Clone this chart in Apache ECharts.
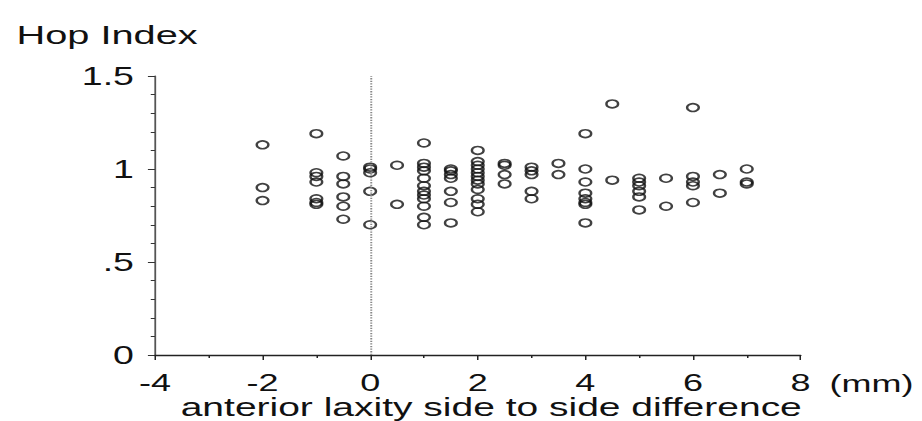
<!DOCTYPE html>
<html>
<head>
<meta charset="utf-8">
<script src="https://cdn.jsdelivr.net/npm/echarts@6/dist/echarts.min.js"></script>
<style>
  html, body { margin: 0; padding: 0; background: #fff; overflow: hidden; }
  /* The plot is laid out on a narrower canvas and stretched horizontally. */
  #chart { width: 614.67px; height: 421px; transform: scaleX(1.5); transform-origin: 0 0; }
</style>
</head>
<body>
<div id="chart"></div>
<script>
// Anterior laxity side-to-side difference (mm) for each column of points
const laxity = [-2, -1, -0.5, 0, 0.5, 1, 1.5, 2, 2.5, 3, 3.5, 4, 4.5, 5, 5.5, 6, 6.5, 7];

// Hop index values observed at each laxity difference
const hopIndex = [
  [1.13, 0.90, 0.83],
  [1.19, 0.98, 0.96, 0.93, 0.84, 0.82, 0.81],
  [1.07, 0.96, 0.92, 0.85, 0.80, 0.73],
  [1.01, 1.00, 0.98, 0.88, 0.70],
  [1.02, 0.81],
  [1.14, 1.03, 1.01, 0.99, 0.95, 0.91, 0.88, 0.86, 0.84, 0.80, 0.74, 0.70],
  [1.00, 0.99, 0.97, 0.95, 0.88, 0.82, 0.71],
  [1.10, 1.04, 1.02, 1.00, 0.98, 0.96, 0.94, 0.92, 0.89, 0.84, 0.81, 0.77],
  [1.03, 1.02, 0.97, 0.92],
  [1.01, 0.99, 0.97, 0.88, 0.84],
  [1.03, 0.97],
  [1.19, 1.00, 0.93, 0.87, 0.84, 0.82, 0.81, 0.71],
  [1.35, 0.94],
  [0.95, 0.93, 0.91, 0.88, 0.85, 0.78],
  [0.95, 0.80],
  [1.33, 0.96, 0.93, 0.91, 0.82],
  [0.97, 0.87],
  [1.00, 0.93, 0.92]
];

const xTicks = { min: -4, max: 8, step: 2 };
const yTicks = { min: 0, max: 1.5, step: 0.5 };

const xTitle = 'anterior laxity side to side difference';
const xUnit = '(mm)';

const points = [];
laxity.forEach((x, i) => hopIndex[i].forEach(y => points.push([x, y])));

const font = 'Liberation Sans, Arial, Helvetica, sans-serif';
const chart = echarts.init(document.getElementById('chart'), null, { renderer: 'svg' });

chart.setOption({
  animation: false,
  backgroundColor: '#fff',
  title: {
    text: 'Hop Index',
    left: 6,
    top: 16,
    textStyle: { fontFamily: font, fontSize: 26.5, fontWeight: 'normal', color: '#111' }
  },
  grid: { left: 103.3, right: 81.3, top: 76, bottom: 66, containLabel: false, outerBoundsMode: 'none' },
  xAxis: {
    type: 'value',
    min: xTicks.min, max: xTicks.max, interval: xTicks.step,
    axisLine: { onZero: false, lineStyle: { color: '#222', width: 1.4 } },
    axisTick: { show: true, length: 5, lineStyle: { color: '#222', width: 1 } },
    minorTick: { show: true, splitNumber: 2, length: 3, lineStyle: { color: '#222', width: 1 } },
    splitLine: { show: false },
    axisLabel: { fontFamily: font, fontSize: 24, lineHeight: 20, color: '#111', margin: 17 }
  },
  yAxis: {
    type: 'value',
    min: yTicks.min, max: yTicks.max, interval: yTicks.step,
    axisLine: { show: true, onZero: false, lineStyle: { color: '#555', width: 1.2 } },
    axisTick: { show: true, length: 4.7, lineStyle: { color: '#333', width: 1 } },
    minorTick: { show: true, splitNumber: 5, length: 2.8, lineStyle: { color: '#333', width: 1 } },
    splitLine: { show: false },
    axisLabel: {
      fontFamily: font, fontSize: 25, color: '#111', margin: 14,
      formatter: v => String(v).replace(/^0\./, '.')
    }
  },
  graphic: [
    {
      type: 'text',
      x: 327.5,
      y: 407,
      style: {
        text: xTitle, font: '26px ' + font, lineHeight: 22, fill: '#111',
        align: 'center', verticalAlign: 'middle'
      }
    },
    {
      type: 'text',
      x: 553,
      y: 383,
      style: {
        text: xUnit, font: '24px ' + font, lineHeight: 20, fill: '#111',
        align: 'left', verticalAlign: 'middle'
      }
    }
  ],
  series: [{
    type: 'scatter',
    data: points,
    symbol: 'circle',
    symbolSize: 7.8,
    itemStyle: { color: 'rgba(0,0,0,0)', borderColor: '#111', borderWidth: 1.6 },
    markLine: {
      silent: true,
      symbol: 'none',
      label: { show: false },
      lineStyle: { type: 'dotted', color: '#888', width: 1.3 },
      data: [{ xAxis: 0 }]
    }
  }]
});
</script>
</body>
</html>
